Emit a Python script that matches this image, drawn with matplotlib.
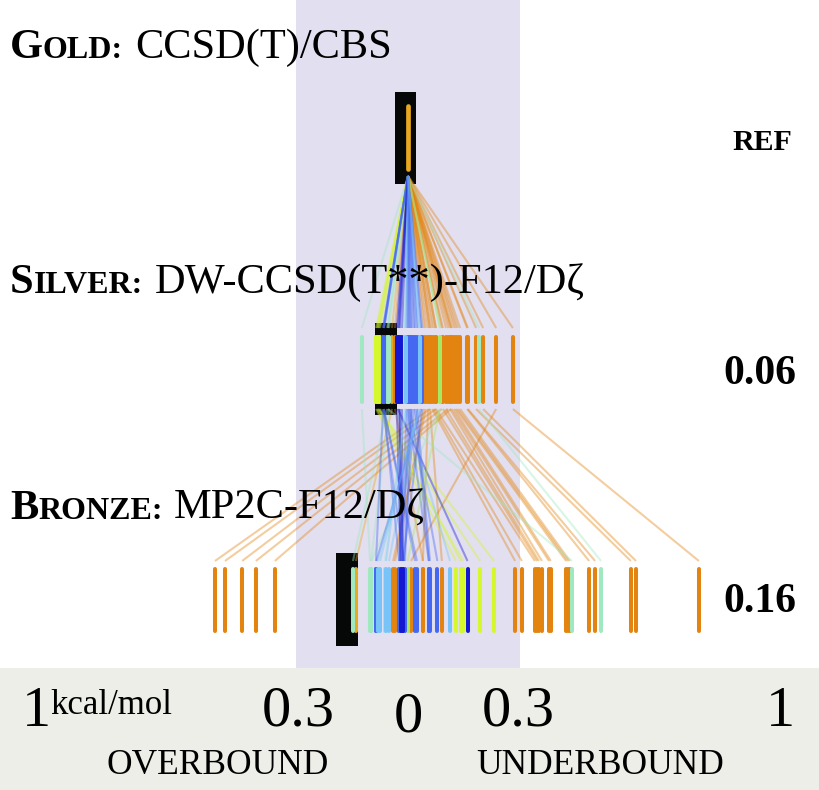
import matplotlib
matplotlib.use("Agg")
import matplotlib.pyplot as plt
from matplotlib.patches import Rectangle

W, H = 820, 790
PX = 372.0  # pixels per kcal/mol

# errors against the reference, kcal/mol, one entry per system
silver_err = [0.059, 0.075, 0.091, 0.108, 0.116, 0.237, 0.043, 0.048, 0.054, 0.059,
              0.065, 0.070, 0.075, 0.094, 0.102, 0.113, 0.118, 0.124, 0.129, 0.134,
              0.140, 0.159, 0.161, 0.183, 0.202, 0.282, -0.043, -0.035,
              -0.124, -0.054, 0.191, -0.056, -0.051, 0.086,
              -0.086, -0.083, -0.081, -0.078, -0.075,
              -0.067, -0.065, -0.027, -0.022, -0.016, -0.008, -0.008, 0.000, 0.005, 0.011,
              0.016, 0.027, 0.035, 0.027, 0.086,
              -0.064, -0.067, -0.065, -0.003, 0.003, 0.008, 0.019, 0.024, 0.038,
              -0.030, -0.024, -0.005, 0.032]
bronze_err = [-0.519, -0.492, -0.446, -0.409, -0.358, 0.008, -0.035, -0.040, 0.040, 0.091,
              0.288, 0.306, 0.341, 0.347, 0.352, 0.360, 0.379, 0.384, 0.425, 0.430,
              0.435, 0.487, 0.503, 0.599, 0.613, 0.782, -0.140, 0.040,
              -0.102, 0.441, 0.519, -0.148, -0.099, -0.099,
              0.129, 0.148, 0.231, 0.194, 0.142,
              -0.086, 0.019, 0.160, -0.022, -0.016, 0.113, -0.062, 0.056, 0.079, -0.024,
              -0.011, -0.075, -0.085, -0.051, -0.001,
              -0.024, -0.011, 0.024, -0.022, -0.016, -0.008, 0.056, 0.059, -0.013,
              -0.019, -0.013, -0.059, -0.081]
system_kind = ["O"] * 26 + ["G", "O"] + ["M"] * 6 + ["Y"] * 5 + ["B", "B", "D", "D", "D", "L", "C",
               "B", "B", "B", "B", "L", "B", "L", "N"] + ["B"] * 9 + ["D", "D", "L", "L"]

colors = {"O": "#e2840f", "G": "#e8a820", "M": "#9fe8c0", "C": "#98e8e0", "L": "#78c4f8",
          "B": "#4568f0", "D": "#1418d0", "Y": "#d4f82c", "N": "#a8e860"}

labels_err = ["REF", "0.06", "0.16"]

fig = plt.figure(figsize=(W / 100, H / 100), dpi=100)
ax = fig.add_axes([0, 0, 1, 1])
ax.set_xlim(-408 / PX, (W - 408) / PX)
ax.set_ylim(H, 0)
ax.axis("off")
plt.rcParams["font.family"] = ["Liberation Serif", "DejaVu Serif"]


def xv(px):
    return (px - 408) / PX


# backgrounds
ax.axvspan(-0.3, 0.3, ymin=(H - 668) / H, ymax=1, color="#e2dff0", lw=0, zorder=0)
ax.add_patch(Rectangle((0, 668), W, H - 668, transform=ax.get_yaxis_transform(), color="#eeeee8", lw=0, zorder=0))

# black boxes around the best systems
for x0, x1, y0, y1 in [(395, 416, 92, 184), (375, 397, 323, 415), (336, 358, 553, 646)]:
    ax.add_patch(Rectangle((xv(x0), y0), (x1 - x0) / PX, y1 - y0, color="#060808", lw=0, zorder=1))


def text_run(x, y, pieces):
    # small caps: pieces drawn one after the other
    r = fig.canvas.get_renderer()
    for s, size, weight in pieces:
        t = fig.text(x / W, 1 - y / H, s, fontsize=size, fontweight=weight, va="baseline", ha="left", zorder=2)
        x += t.get_window_extent(r).width


text_run(10, 58, [("G", 30.5, "bold"), ("OLD:", 23, "bold")])
text_run(135, 58, [("CCSD(T)/CBS", 30.5, "normal")])
text_run(10, 293, [("S", 30.5, "bold"), ("ILVER:", 23, "bold")])
text_run(155, 293, [("DW-CCSD(T**)-F12/Dζ", 30.5, "normal")])
text_run(10, 519, [("B", 30.5, "bold"), ("RONZE:", 23, "bold")])
text_run(174, 519, [("MP2C-F12/Dζ", 30.5, "normal")])

for s, x, y, size in zip(labels_err, [792, 796, 796], [150, 384, 612], [21.5, 30, 30]):
    fig.text(x / W, 1 - y / H, s, fontsize=size, fontweight="bold", ha="right", va="baseline")

# connecting lines
for s, b, k in zip(silver_err, bronze_err, system_kind):
    ax.plot([0, s], [176, 328], color=colors[k], lw=1.5, alpha=0.4, zorder=3, solid_capstyle="butt")
    ax.plot([s, b], [409, 561], color=colors[k], lw=1.5, alpha=0.4, zorder=3, solid_capstyle="butt")

# bars
ax.vlines([0], 106, 169, color=colors["G"], lw=3.4, capstyle="round", zorder=4)
for s, k in zip(silver_err, system_kind):
    ax.vlines(s, 337, 402, color=colors[k], lw=2.9, capstyle="round", zorder=4)
for b, k in zip(bronze_err, system_kind):
    ax.vlines(b, 569, 631, color=colors[k], lw=2.9, capstyle="round", zorder=4)

# bottom scale
for s, x, y in [("1", 36, 726), ("0.3", 298, 726), ("0", 408, 731), ("0.3", 518, 726), ("1", 780, 726)]:
    ax.text(xv(x), y, s, fontsize=42, ha="center", va="baseline", zorder=5)
ax.text(xv(50), 714, "kcal/mol", fontsize=25, ha="left", va="baseline", zorder=5)
ax.text(xv(218), 774, "OVERBOUND", fontsize=25.5, ha="center", va="baseline", zorder=5)
ax.text(xv(600), 774, "UNDERBOUND", fontsize=25.5, ha="center", va="baseline", zorder=5)

fig.savefig("out.png", dpi=100)
